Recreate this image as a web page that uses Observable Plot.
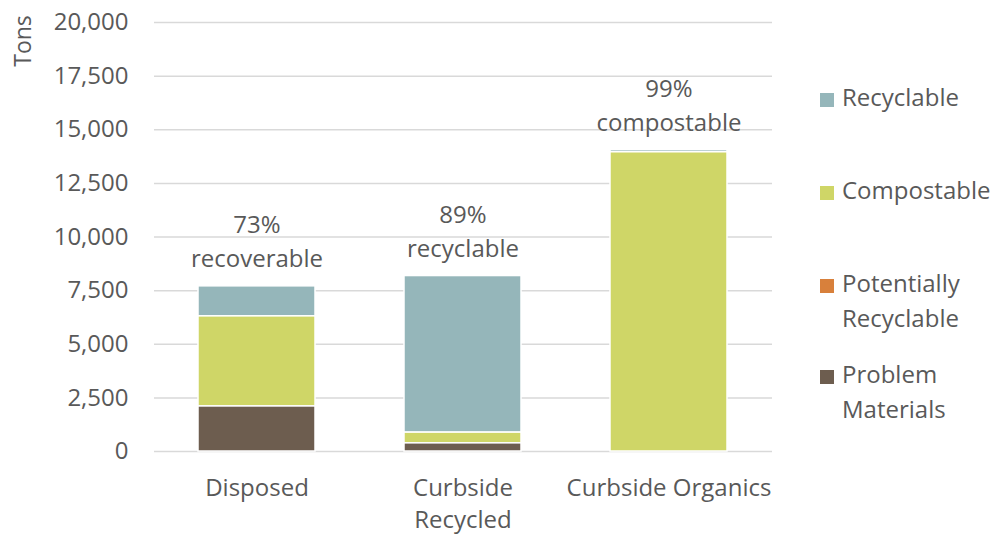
<!DOCTYPE html>
<html>
<head>
<meta charset="utf-8">
<script src="https://cdn.jsdelivr.net/npm/d3@7"></script>
<script src="https://cdn.jsdelivr.net/npm/@observablehq/plot@0.6"></script>
<style>
  body { margin: 0; background: #fff; font-family: "Open Sans", Lato, sans-serif; color: #595959; }
  #wrap { position: relative; width: 994px; height: 535px; }
  #chart { position: absolute; left: 0; top: 0; }
  #ylabel { position: absolute; left: 22px; top: 41px; transform: translate(-50%, -50%) rotate(-90deg); font-size: 23px; white-space: nowrap; line-height: 1; }
  #legend { position: absolute; left: 820px; top: 0; font-size: 24px; }
  .item { position: absolute; left: 0; white-space: nowrap; line-height: 34.5px; }
  .swatch { position: absolute; left: 0; top: 12.6px; width: 14px; height: 14px; }
  .name { position: absolute; left: 22px; top: 0; }
</style>
</head>
<body>
<div id="wrap">
  <div id="chart"></div>
  <div id="ylabel">Tons</div>
  <div id="legend"></div>
</div>
<script>
// Waste streams (tons) by material class
const categories = ["Disposed", "Curbside Recycled", "Curbside Organics"];
const categoryLabels = ["Disposed", "Curbside\nRecycled", "Curbside Organics"];
const materials = ["Recyclable", "Compostable", "Potentially Recyclable", "Problem Materials"];
const materialColors = ["#95b6ba", "#cfd667", "#d8803b", "#6d5d4f"];

const recyclable = [1400, 7300, 100];
const compostable = [4200, 500, 13950];
const potentiallyRecyclable = [0, 0, 0];
const problemMaterials = [2100, 380, 0];

// What each annotation reports as a share of the bar's total
const shareOf = [["Recyclable", "Compostable"], ["Recyclable"], ["Compostable"]];
const shareWords = ["recoverable", "recyclable", "compostable"];

const yTicks = [0, 2500, 5000, 7500, 10000, 12500, 15000, 17500, 20000];

const series = {
  "Recyclable": recyclable,
  "Compostable": compostable,
  "Potentially Recyclable": potentiallyRecyclable,
  "Problem Materials": problemMaterials
};

const rows = categories.flatMap((c, i) =>
  materials.map(m => ({category: c, material: m, tons: series[m][i]}))
);

const totals = categories.map((c, i) => ({
  category: c,
  total: d3.sum(materials, m => series[m][i]),
  label: Math.round(100 * d3.sum(shareOf[i], m => series[m][i]) / d3.sum(materials, m => series[m][i])) + "%\n" + shareWords[i]
}));

const ink = "#595959";
const font = "'Open Sans', Lato, sans-serif";

// Shared placement of the share annotations above each bar
const noteOptions = {
  x: "category", y: "total", text: "label",
  lineAnchor: "bottom", dy: -19, lineHeight: 1.43, fontSize: 24
};

const chart = Plot.plot({
  width: 800,
  height: 535,
  marginLeft: 154,
  marginRight: 28,
  marginTop: 22,
  marginBottom: 84,
  style: {fontFamily: font, fontSize: "24px", color: ink, background: "white"},
  x: {type: "band", domain: categories, paddingInner: 0.43, paddingOuter: 0.215},
  y: {domain: [0, 20000]},
  color: {domain: materials, range: materialColors},
  marks: [
    Plot.gridY(yTicks, {stroke: "#d9d9d9", strokeOpacity: 1, strokeWidth: 1.5}),
    // white layer behind the annotations; boxes are added to it after layout
    Plot.text(totals, {...noteOptions, fill: "white", ariaLabel: "note backdrop"}),
    Plot.barY(rows, {
      x: "category", y: "tons", fill: "material",
      order: ["Problem Materials", "Potentially Recyclable", "Compostable", "Recyclable"],
      stroke: "white", strokeWidth: 1.5
    }),
    Plot.text(totals, {...noteOptions, fill: ink, ariaLabel: "note"}),
    Plot.axisY({
      ticks: yTicks, tickFormat: d3.format(","), tickSize: 0, tickPadding: 26,
      label: null, fill: ink, fontSize: 24
    }),
    Plot.axisX({
      tickSize: 0, tickPadding: 22, label: null, fill: ink, fontSize: 24,
      lineHeight: 1.33,
      tickFormat: d => categoryLabels[categories.indexOf(d)]
    })
  ]
});
document.getElementById("chart").appendChild(chart);

// Rectangular white box behind each annotation so the gridlines stop at its edges
const backdrop = chart.querySelector('g[aria-label="note backdrop"]');
chart.querySelectorAll('g[aria-label="note"] text').forEach(t => {
  const bb = t.getBBox();
  const r = document.createElementNS("http://www.w3.org/2000/svg", "rect");
  r.setAttribute("x", bb.x - 7);
  r.setAttribute("y", bb.y - 2);
  r.setAttribute("width", bb.width + 14);
  r.setAttribute("height", bb.height + 4);
  r.setAttribute("fill", "white");
  if (t.getAttribute("transform")) r.setAttribute("transform", t.getAttribute("transform"));
  backdrop.appendChild(r);
});

// Legend at right, top of stack listed first
const legendTops = [80, 173.4, 266.4, 357.4];
const legend = document.getElementById("legend");
materials.forEach((m, i) => {
  const item = document.createElement("div");
  item.className = "item";
  item.style.top = legendTops[i] + "px";
  const sw = document.createElement("div");
  sw.className = "swatch";
  sw.style.background = materialColors[i];
  const name = document.createElement("div");
  name.className = "name";
  name.innerHTML = m.replace(" ", "<br>");
  item.appendChild(sw);
  item.appendChild(name);
  legend.appendChild(item);
});
</script>
</body>
</html>
